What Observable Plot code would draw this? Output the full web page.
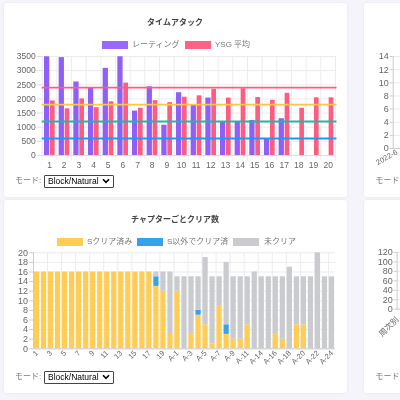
<!DOCTYPE html>
<html lang="ja">
<head>
<meta charset="utf-8">
<script src="https://cdn.jsdelivr.net/npm/d3@7"></script>
<script src="https://cdn.jsdelivr.net/npm/@observablehq/plot@0.6"></script>
<style>
html,body{margin:0;padding:0;width:400px;height:400px;overflow:hidden;background:#f5f4fa;}
body{position:relative;font-family:"Liberation Sans","Noto Sans CJK JP",sans-serif;color:#666;}
#page{position:absolute;inset:0;overflow:hidden;filter:blur(.3px);}
.card{position:absolute;background:#fff;border-radius:3px;box-shadow:0 0 3px rgba(0,0,0,.07);}
.title{position:absolute;font-size:8px;font-weight:bold;color:#444;text-align:center;line-height:10px;}
.legend{position:absolute;font-size:8px;line-height:10px;white-space:nowrap;color:#777;}
.legend i{position:absolute;top:1px;width:26px;height:8px;}
.legend span{position:absolute;top:0;}
.mode{position:absolute;font-size:8px;line-height:12px;white-space:nowrap;color:#777;}
.mode select{position:absolute;left:29px;top:0;width:70px;height:12.5px;font:8.5px "Liberation Sans",sans-serif;color:#000;background:#fff url("data:image/svg+xml,%3Csvg xmlns='http://www.w3.org/2000/svg' width='8' height='6'%3E%3Cpath d='M1 1.2L4 4.4L7 1.2' fill='none' stroke='%23000' stroke-width='1.6'/%3E%3C/svg%3E") no-repeat right 3px center;border:1px solid #444;border-radius:1px;padding:0 0 0 3px;appearance:none;-webkit-appearance:none;}
.chart{position:absolute;}
.chart svg{display:block;overflow:visible;max-width:none;}
</style>
</head>
<body>
<div id="page">
  <div class="card" style="left:4px;top:3px;width:342.5px;height:193.5px"></div>
  <div class="card" style="left:4px;top:200px;width:342.5px;height:193px"></div>
  <div class="card" style="left:364px;top:3px;width:60px;height:193.5px"></div>
  <div class="card" style="left:364px;top:200px;width:60px;height:193px"></div>

  <div class="title" style="left:4px;width:342px;top:18px">タイムアタック</div>
  <div class="legend" style="left:0;top:40px">
    <i style="left:102px;background:#9a68fb"></i><span style="left:132px">レーティング</span>
    <i style="left:185px;background:#ff6384"></i><span style="left:215px">YSG 平均</span>
  </div>
  <div id="chart1" class="chart" style="left:4px;top:50px"></div>
  <div class="mode" style="left:15px;top:175px">モード:<select><option>Block/Natural</option></select></div>

  <div class="title" style="left:4px;width:342px;top:214.5px">チャプターごとクリア数</div>
  <div class="legend" style="left:0;top:237px">
    <i style="left:57px;background:#ffcd56"></i><span style="left:87px">Sクリア済み</span>
    <i style="left:137px;background:#36a2eb"></i><span style="left:167px">S以外でクリア済</span>
    <i style="left:233px;background:#c9cbcf"></i><span style="left:264px">未クリア</span>
  </div>
  <div id="chart2" class="chart" style="left:4px;top:245px"></div>
  <div class="mode" style="left:15px;top:371px">モード:<select><option>Block/Natural</option></select></div>

  <div id="chart3" class="chart" style="left:364px;top:50px"></div>
  <div class="mode" style="left:375.5px;top:175px">モード</div>
  <div id="chart4" class="chart" style="left:364px;top:245px"></div>
  <div class="mode" style="left:375.5px;top:371px">モード</div>
</div>
<script>
// ---- タイムアタック ----
const stages = ["1","2","3","4","5","6","7","8","9","10","11","12","13","14","15","16","17","18","19","20"];
const rating = [3490,3460,2600,2380,3080,3490,1570,2430,1070,2220,1770,2030,1180,1190,1240,590,1300,null,null,null];
const ysgAverage = [1930,1650,2000,1690,1900,2560,1670,1940,1870,2060,2110,2340,2030,2360,2050,1950,2200,1670,2040,2040];
const refLevels = [2400,1800,1200,600];
const refColors = ["#ff5c80","#ffc63f","#24b5a5","#2196f3"];
const ratingTicks = [0,500,1000,1500,2000,2500,3000,3500];

// ---- チャプターごとクリア数 ----
const chapters = ["1","2","3","4","5","6","7","8","9","10","11","12","13","14","15","16","17","18","19","20",
  "A-1","A-2","A-3","A-4","A-5","A-6","A-7","A-8","A-9","A-10","A-11","A-13","A-14","A-15","A-16","A-17","A-18","A-19","A-20","A-21","A-22","A-23","A-24"];
const sCleared = [16,16,16,16,16,16,16,16,16,16,16,16,16,16,16,16,16,13,12,3,12,0,3,7,5,1,9,3,2,2,5,0,0,0,3,2,0,5,5,0,0,0,0];
const otherCleared = [0,0,0,0,0,0,0,0,0,0,0,0,0,0,0,0,0,2,0,0,0,0,0,1,0,0,0,2,0,0,0,0,0,0,0,0,0,0,0,0,0,0,0];
const notCleared = [0,0,0,0,0,0,0,0,0,0,0,0,0,0,0,0,0,1,4,13,3,15,12,7,14,14,6,13,13,13,10,16,15,15,12,13,17,10,10,15,20,15,15];
const chapterTicks = chapters.filter((c,i)=>i%2===0);
const chapterGrid = chapters.filter((c,i)=>i%2===1);
const seriesNames = ["Sクリア済み","S以外でクリア済","未クリア"];
const seriesColors = ["#ffcd56","#36a2eb","#c9cbcf"];
const clearTicks = [0,2,4,6,8,10,12,14,16,18,20];

// ---- 右側のカード(軸のみ見える) ----
const rightTopTicks = [0,2,4,6,8,10,12,14];
const rightTopLabel = ["2022-6"];
const rightBottomTicks = [0,20,40,60,80,100,120];
const rightBottomLabel = ["周次別"];

const baseStyle = {fontFamily:'"Liberation Sans","Noto Sans CJK JP",sans-serif',fontSize:"8.5px",color:"#666",background:"transparent",overflow:"visible"};
const gridColor = "#ececec";
const plain = d => String(d);

// Chart 1
const step1 = (335-41.7)/stages.length;
document.getElementById("chart1").append(Plot.plot({
  width:342, height:125,
  marginLeft:37.7, marginRight:11, marginTop:6, marginBottom:20,
  style:baseStyle,
  x:{type:"band",domain:stages,padding:0,round:false,label:null},
  y:{domain:[0,3500],label:null},
  marks:[
    Plot.gridY(ratingTicks,{stroke:gridColor,strokeOpacity:1}),
    Plot.ruleX(stages,{x:d=>d,dx:step1/2,stroke:gridColor,insetBottom:-5}),
    Plot.ruleX(stages.slice(0,1),{x:d=>d,dx:-step1/2,stroke:gridColor,insetBottom:-5}),
    Plot.barY(rating,{x:(d,i)=>stages[i],y:d=>d,fill:"#8f5ff7",insetLeft:2.3,insetRight:7.1,filter:d=>d!=null}),
    Plot.barY(ysgAverage,{x:(d,i)=>stages[i],y:d=>d,fill:"#ff5c80",insetLeft:8.3,insetRight:1.7}),
    Plot.ruleY(refLevels,{y:d=>d,stroke:(d,i)=>refColors[i],strokeWidth:1.9,insetRight:-1.5}),
    Plot.ruleY([0],{stroke:"#ddd"}),
    Plot.axisY(ratingTicks,{label:null,tickSize:5,tickPadding:1.5,stroke:"#ddd",tickFormat:plain}),
    Plot.axisX({tickSize:0,tickPadding:6,label:null})
  ]
}));

// Chart 2
const rows = chapters.flatMap((c,i)=>[
  {chapter:c,series:seriesNames[0],value:sCleared[i]},
  {chapter:c,series:seriesNames[1],value:otherCleared[i]},
  {chapter:c,series:seriesNames[2],value:notCleared[i]}
]);
const step2 = (335-33)/chapters.length;
document.getElementById("chart2").append(Plot.plot({
  width:342, height:123,
  marginLeft:29, marginRight:11, marginTop:7.3, marginBottom:19.7,
  style:baseStyle,
  x:{type:"band",domain:chapters,padding:0,round:false,label:null},
  y:{domain:[0,20],label:null},
  color:{domain:seriesNames,range:seriesColors},
  marks:[
    Plot.gridY(clearTicks,{stroke:gridColor,strokeOpacity:1}),
    Plot.ruleX(chapterGrid,{x:d=>d,dx:step2/2,stroke:gridColor}),
    Plot.barY(rows,{x:"chapter",y:"value",fill:"series",insetLeft:.9,insetRight:.9,order:seriesNames}),
    Plot.ruleY([0],{stroke:"#ccc"}),
    Plot.ruleX(chapters.slice(0,1),{x:d=>d,dx:-step2/2,stroke:"#ccc"}),
    Plot.axisY(clearTicks,{label:null,tickSize:4,tickPadding:1.5,stroke:"#ccc",fontSize:9,tickFormat:plain}),
    Plot.axisX(chapterTicks,{tickSize:0,tickPadding:3,tickRotate:-45,label:null,fontSize:7.5})
  ]
}));

// Chart 3 (the rest of this card lies outside the window)
document.getElementById("chart3").append(Plot.plot({
  width:36, height:118,
  marginLeft:28.7, marginRight:0, marginTop:6, marginBottom:20,
  style:baseStyle,
  x:{type:"band",domain:rightTopLabel,round:false,label:null},
  y:{domain:[0,14],label:null},
  marks:[
    Plot.gridY(rightTopTicks,{stroke:gridColor,strokeOpacity:1}),
    Plot.ruleY([0],{stroke:"#ccc"}),
    Plot.frame({anchor:"left",stroke:"#ccc"}),
    Plot.axisY(rightTopTicks,{label:null,tickSize:3,tickPadding:1.5,stroke:"#ccc",fontSize:9,tickFormat:plain}),
    Plot.axisX({tickSize:0,tickPadding:3,tickRotate:-30,label:null,fontSize:7.5})
  ]
}));

// Chart 4 (the rest of this card lies outside the window)
document.getElementById("chart4").append(Plot.plot({
  width:33, height:84.7,
  marginLeft:32.7, marginRight:0, marginTop:7, marginBottom:21,
  style:baseStyle,
  x:{type:"band",domain:rightBottomLabel,round:false,label:null},
  y:{domain:[0,120],label:null},
  marks:[
    Plot.gridY(rightBottomTicks,{stroke:gridColor,strokeOpacity:1,insetRight:-4}),
    Plot.ruleY([0],{stroke:"#ccc",insetRight:-4}),
    Plot.frame({anchor:"left",stroke:"#ccc"}),
    Plot.axisY(rightBottomTicks,{label:null,tickSize:3,tickPadding:1.5,stroke:"#ccc",fontSize:9,tickFormat:plain}),
    Plot.axisX({tickSize:0,tickPadding:9,tickRotate:-45,label:null,fontSize:8})
  ]
}));
</script>
</body>
</html>
